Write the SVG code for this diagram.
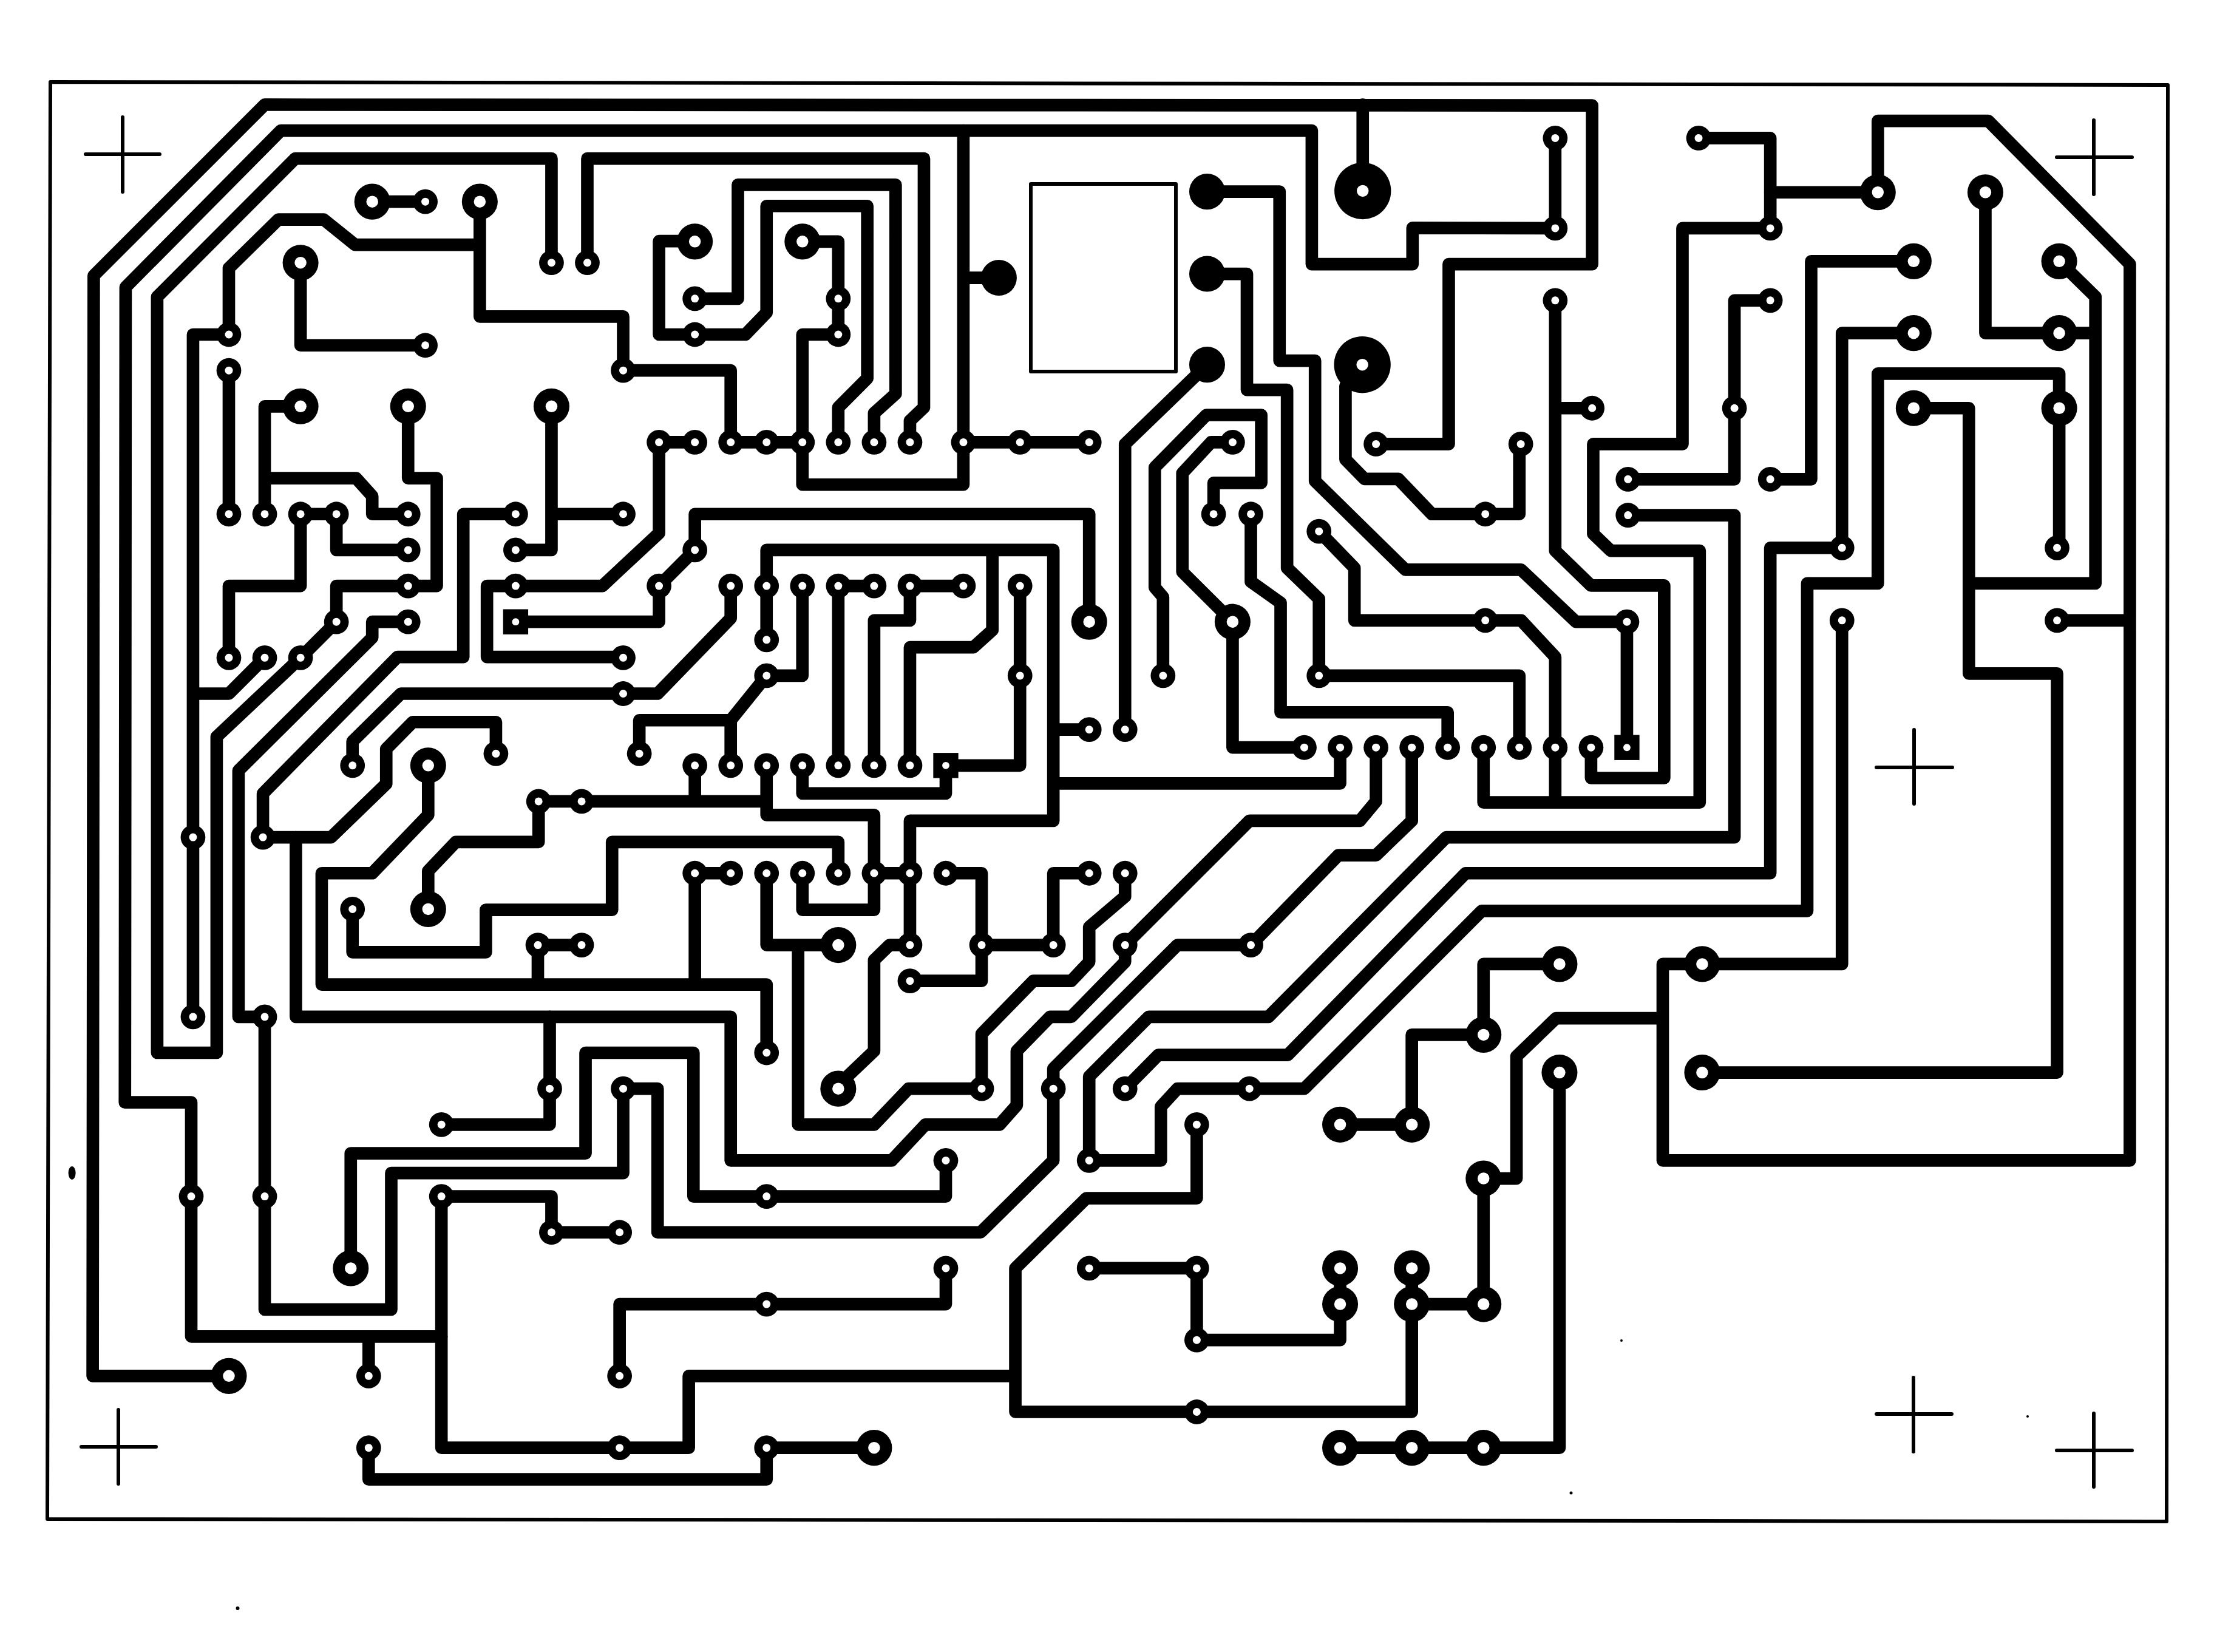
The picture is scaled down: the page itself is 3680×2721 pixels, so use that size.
<svg xmlns="http://www.w3.org/2000/svg" width="3680" height="2721" viewBox="0 0 3680 2721">
<style>
.line{fill:none;stroke:#000;stroke-width:6;stroke-linejoin:round;stroke-linecap:round}
#connectors path{fill:none;stroke:#000;stroke-width:.35;stroke-linejoin:round;stroke-linecap:round}
</style>
<defs>
<g id="s"><circle r=".345"/><circle r=".11" fill="#fff"/></g>
<g id="l"><circle r=".5"/><circle r=".165" fill="#fff"/></g>
<g id="h"><circle r=".79"/><circle r=".165" fill="#fff"/></g>
<circle id="f" r=".5"/>
<g id="q"><rect x="-.35" y="-.35" width=".7" height=".7"/><circle r=".1" fill="#fff"/></g>
</defs>
<rect width="3680" height="2721" fill="#fff"/>
<g id="board">
<path class="line" d="M83 135L3571 140L3569 2506L78 2502Z"/>
<rect class="line" x="1698" y="303" width="239" height="309"/>
<path class="line" d="M141 254H263M202 193V316M3388 259H3512M3449 198V320M3091 1264H3216M3153 1202V1324M134 2383H257M195 2322V2444M3091 2329H3215M3152 2269V2391M3388 2389H3512M3449 2328V2449"/>
<g fill="#000"><ellipse cx="118.600" cy="1932" rx="6" ry="11"/><circle cx="391.500" cy="2649" r="3"/><circle cx="2671" cy="2208" r="2"/><circle cx="2588" cy="2459" r="2.500"/><circle cx="3340" cy="2333" r="2"/></g>
</g>
<g transform="translate(377 551) scale(59.05 59.15)">
<g id="connectors">
<path d="M0 29L-3.8 29L-3.77 -1.64L1 -6.4L38.03 -6.38L38.03 -1.96L34.03 -1.96L34.03 3.05L32 3.05"/>
<path d="M31.63 -6.4L31.63 -4"/>
<path d="M37 -5.47L37 -2.96L33.02 -2.97L33.02 -1.96L30.21 -1.96L30.21 -5.68L1.45 -5.68L-2.88 -1.32L-2.9 21.38L-1.05 21.38L-1.05 27.9L5.93 27.9"/>
<path d="M20.49 -5.68L20.49 4.18L16 4.18L16 0L17 0M21.48 -1.58L20.49 -1.58M20.49 3L24 3M11 1L14 1L14 3L16 3"/>
<path d="M7 -3.7L7 -.5L11 -.5L11 1M7 -2.5L3.52 -2.5L2.65 -3.2L1.38 -3.2L0 -1.85L0 0L-1 0L-1 19M-1 10L0 10L1 9"/>
<path d="M10 -2L10 -4.9L19.39 -4.9L19.39 2.03L19 2.4L19 3M13 -1L14.2 -1L14.2 -4.17L18.6 -4.17L18.6 1.65L18 2.19L18 3M13 0L14.41 0L15 -.61L15 -3.58L17.81 -3.58L17.81 1.22L17 2.03L17 3M13 0L12 0L12 -2.6L13 -2.6M16 -2.59L17 -2.59L17 0"/>
<path d="M2 -2L2 .3L5.48 .3M4 -3.7L5.48 -3.7M0 1L0 5M2 2L1 2L1 5M1 4L3.55 4L4 4.5L4 5L5 5M2 5L3 5L3 6L5 6M2 5L2 7L0 7L0 9"/>
<path d="M5 2L5 4L5.8 4L5.8 7L3 7L3 8L2 9L-.34 11.2L-.34 20L-2 20L-2 -1.05L1.85 -4.9L9 -4.9L9 -2"/>
<path d="M9 2L9 6L8 6M9 5L11 5M8 7L10.42 7L12 5.53L12 3L13 3M8 7L7.2 7L7.2 8.98L11 8.98"/>
<path d="M8 5L6.54 5L6.54 8.98L4.7 8.98L.95 12.78L.95 14L2.85 14L4.39 12.51L4.39 11.54L5.13 10.79L7.45 10.79L7.45 11.67"/>
<path d="M5 8L4 8L4 8.44L.27 12.14L.27 19L1 19L1 27.15L4.53 27.15L4.53 23.35L11 23.35L11 21L11.96 21L11.96 25L20.97 25L23 23L23 20.44L26.46 17L28.51 17L30.95 14.5L32 14.5L33 13.54L33 11.5"/>
<path d="M14 7L14 7.9L11.96 10L4.8 10L3.45 11.33L3.45 12"/>
<path d="M11.45 11.67L11.45 10.74L14 10.74L14 12M14 10.74L15 9.5L16 9.5L16 7"/>
<path d="M15 8.5L15 6L23 6L23 13.54L19 13.54L19 15M21.3 6L21.3 8.23L20.77 8.71L19 8.71L19 12M17 7L17 12M17 7L18 7M18 12L18 7.96L19 7.96L19 7L20.49 7M22.07 7L22.07 12L20 12L20 12.78L16 12.78L16 12M23 11L24 11M23 12.5L31 12.5L31 11.5"/>
<path d="M24 8L24 5L13 5L13 6L12 7L12 8L8 8"/>
<path d="M25 11L25 3.05L27.29 .84"/>
<path d="M27.29 -3.98L29.31 -3.98L29.31 .73L30.3 .73L30.3 4.08L32.82 6.55L36.05 6.55L37.58 8L39 8L39 11.5"/>
<path d="M30.41 5.48L31.4 6.5L31.4 7.96L36.05 7.96L37 8.98L37 11.5"/>
<path d="M27.29 -1.69L28.4 -1.69L28.4 1.54L29.52 1.54L29.52 6.5L30.41 7.36L30.41 9.5L36 9.5L36 11.5"/>
<path d="M28.51 5L28.51 6.88L29.34 7.47L29.34 10.52L34 10.52L34 11.5"/>
<path d="M27.47 5L27.47 4.13L28.8 4.13L28.8 2.24L27.27 2.24L25.83 3.7L25.83 7.04L26.06 7.31L26.06 9.5"/>
<path d="M28 3L27.4 3L26.6 3.86L26.6 6.61L28 8L28 11.5L30 11.5"/>
<path d="M36 3.05L36 5L33.56 5L32.62 4.02L31.68 4.02L31.15 3.48L31.15 1.43L31.62 .84"/>
<path d="M41 -5.47L43 -5.47L43 -2.96L40.55 -2.96L40.55 3.05L38.06 3.05L38.06 5.55L38.55 6.02L41.03 6.02L41.03 13.03L35 13.03L35 11.5M37 13.03L37 11.5"/>
<path d="M43 -3.96L46 -3.96L46 -5.95L49.08 -5.95L53.03 -1.96L53.03 23L40 23L40 17.53L45 17.53L45 8M40 19.04L37.02 19.04L35.92 20.1L35.92 23.5L35 23.5L35 27L33 27M51 7.96L53 7.96"/>
<path d="M38 2.05L37 2.05M37 -.95L37 6.02L38 6.99L40.04 6.99L40.04 12.35L38 12.35L38 11.5"/>
<path d="M43 -.95L42 -.95L42 4.03L39 4.03M39 5.03L42 5.03L42 14L33.96 14L29 19L25.66 19L24 20.66L24 23L26 23L26 21.5L26.46 21L30 21L34.95 16.05L44.03 16.05L44.03 6.93L46 6.93L46 1.09L51.06 1.09L51.06 5.94"/>
<path d="M43 4.03L44.14 4.03L44.14 -2.04L47 -2.04M47 -.04L45 -.04L45 5.94L43 5.94L43 15L34.5 15L29.54 20.06L25.93 20.06L25 21"/>
<path d="M47 2.05L48.54 2.05L48.54 9.44L51 9.44L51 20.55L41.1 20.55M48.54 6.93L52.07 6.93L52.07 -1.05L51.06 -2.04M49 -3.96L49 -.04L52.07 -.04"/>
<path d="M33 22L33 19.5L35 19.5L35 17.53L37.12 17.53M33 22L31 22M37.12 20.55L37.12 31L31 31"/>
<path d="M33 26L33 30L21.94 30L21.94 26L23.92 24.05L27 24.05L27 22M21.94 29L12.83 29L12.83 31L5.93 31L5.93 24L9 24L9 25L10.9 25M24 26L27 26L27 28L31 28L31 26M3.9 29L3.9 27.9"/>
<path d="M20 26L20 27L10.9 27L10.9 29M20 23L20 24L12.96 24L12.96 20L9.95 20L9.95 22.8L3.4 22.8L3.4 26M15 31L15 31.88L3.9 31.88L3.9 31M15 31L18 31"/>
<path d="M25 15L25 15.65L24 16.5L24 17.47L23.5 18L22.44 18L21 19.47L21 21L18.96 21L18 22L15.88 22L15.88 17L17 17M15 15L15 17L15.88 17M14 15L13 15L13 18.1"/>
<path d="M5.56 12L5.56 13.38L4 15L2.59 15L2.59 18.1L15 18.1L15 20M8.62 17L8.62 18.1M8.62 17L9.84 17"/>
<path d="M5.56 16L5.56 14.94L6.33 14.13L8.64 14.13L8.64 13L15 13L15 12M15 13.38L18 13.38L18 15M13 12L13 13M15 13L15 13.38"/>
<path d="M17 15L17 14.13L10.69 14.13L10.69 16.02L7.17 16.02L7.17 17.2L3.45 17.2L3.45 16"/>
<path d="M16 15L16 16.02L18 16.02L18 15L19 15L19 17L18.43 17L18 17.42L18 19.95L17 20.9L17 21"/>
<path d="M21 18L21 15L20 15M21 18L19 18M21 17L23 17L23 15L24 15"/>
<path d="M25 17L28.47 13.54L31.55 13.54L32 13L32 11.5"/>
<path d="M25 17L25 17.47L23.5 19L22.91 19L21.98 19.95L21.98 21.46L21.5 22L19.43 22L18.49 23L14 23L14 19L1.87 19L1.87 14"/>
<path d="M8.95 19L8.95 22L5.93 22"/>
</g>
<g id="pads">
<g id="small-pads">
<use href="#s" x="5.48" y="-3.7"/><use href="#s" x="9" y="-2"/><use href="#s" x="10" y="-2"/><use href="#s" x="13" y="-1"/><use href="#s" x="13" y="0"/><use href="#s" x="5.48" y=".3"/><use href="#s" x="0" y="0"/><use href="#s" x="0" y="1"/><use href="#s" x="11" y="1"/><use href="#s" x="0" y="5"/><use href="#s" x="1" y="5"/><use href="#s" x="2" y="5"/><use href="#s" x="3" y="5"/><use href="#s" x="5" y="5"/><use href="#s" x="8" y="5"/><use href="#s" x="11" y="5"/><use href="#s" x="5" y="6"/><use href="#s" x="8" y="6"/><use href="#s" x="5" y="7"/><use href="#s" x="8" y="7"/><use href="#s" x="13" y="6"/><use href="#s" x="12" y="7"/><use href="#s" x="14" y="7"/><use href="#s" x="5" y="8"/><use href="#s" x="3" y="8"/><use href="#s" x="0" y="9"/><use href="#s" x="1" y="9"/><use href="#s" x="2" y="9"/><use href="#s" x="11" y="9"/><use href="#s" x="12" y="3"/><use href="#s" x="13" y="3"/><use href="#s" x="14" y="3"/><use href="#s" x="15" y="3"/><use href="#s" x="16" y="3"/><use href="#s" x="17" y="-1"/><use href="#s" x="17" y="0"/><use href="#s" x="17" y="3"/><use href="#s" x="18" y="3"/><use href="#s" x="19" y="3"/><use href="#s" x="20.49" y="3"/><use href="#s" x="22.07" y="3"/><use href="#s" x="24" y="3"/><use href="#s" x="15" y="7"/><use href="#s" x="16" y="7"/><use href="#s" x="17" y="7"/><use href="#s" x="18" y="7"/><use href="#s" x="19" y="7"/><use href="#s" x="20.49" y="7"/><use href="#s" x="22.07" y="7"/><use href="#s" x="15" y="8.5"/><use href="#s" x="15" y="9.5"/><use href="#s" x="22.07" y="9.5"/><use href="#s" x="14" y="12"/><use href="#s" x="15" y="12"/><use href="#s" x="16" y="12"/><use href="#s" x="17" y="12"/><use href="#s" x="18" y="12"/><use href="#s" x="19" y="12"/><use href="#s" x="24" y="11"/><use href="#s" x="25" y="11"/><use href="#s" x="26.06" y="9.5"/><use href="#s" x="27.47" y="5"/><use href="#s" x="28.51" y="5"/><use href="#s" x="28" y="3"/><use href="#s" x="32" y="3.05"/><use href="#s" x="30.41" y="5.48"/><use href="#s" x="30.41" y="9.5"/><use href="#s" x="30" y="11.5"/><use href="#s" x="31" y="11.5"/><use href="#s" x="32" y="11.5"/><use href="#s" x="33" y="11.5"/><use href="#s" x="34" y="11.5"/><use href="#s" x="35" y="11.5"/><use href="#s" x="36" y="11.5"/><use href="#s" x="37" y="11.5"/><use href="#s" x="38" y="11.5"/>
<use href="#s" x="14" y="15"/><use href="#s" x="15" y="15"/><use href="#s" x="16" y="15"/><use href="#s" x="17" y="15"/><use href="#s" x="18" y="15"/><use href="#s" x="19" y="15"/><use href="#s" x="20" y="15"/><use href="#s" x="24" y="15"/><use href="#s" x="25" y="15"/><use href="#s" x="19" y="17"/><use href="#s" x="21" y="17"/><use href="#s" x="23" y="17"/><use href="#s" x="25" y="17"/><use href="#s" x="28.51" y="17"/><use href="#s" x="19" y="18"/><use href="#s" x="15" y="20"/><use href="#s" x="21" y="21"/><use href="#s" x="23" y="21"/><use href="#s" x="25" y="21"/><use href="#s" x="28.47" y="21"/><use href="#s" x="24" y="23"/><use href="#s" x="20" y="23"/><use href="#s" x="15" y="24"/><use href="#s" x="27" y="22"/><use href="#s" x="20" y="26"/><use href="#s" x="15" y="27"/><use href="#s" x="24" y="26"/><use href="#s" x="27" y="26"/><use href="#s" x="27" y="28"/><use href="#s" x="27" y="30"/><use href="#s" x="15" y="31"/><use href="#s" x="3.9" y="29"/><use href="#s" x="3.9" y="31"/><use href="#s" x="10.9" y="29"/><use href="#s" x="10.9" y="31"/><use href="#s" x="5.93" y="24"/><use href="#s" x="9" y="25"/><use href="#s" x="10.9" y="25"/><use href="#s" x="8.95" y="21"/><use href="#s" x="11" y="21"/><use href="#s" x="11" y="10"/><use href="#s" x="-1" y="14"/><use href="#s" x="-1" y="19"/><use href="#s" x="1" y="19"/><use href="#s" x="1" y="24"/><use href="#s" x="-1.05" y="24"/><use href="#s" x="3.45" y="12"/><use href="#s" x="7.45" y="11.67"/><use href="#s" x="11.45" y="11.67"/><use href="#s" x="13" y="12"/><use href="#s" x=".95" y="14"/><use href="#s" x="8.64" y="13"/><use href="#s" x="9.84" y="13"/><use href="#s" x="8.62" y="17"/><use href="#s" x="9.84" y="17"/><use href="#s" x="13" y="15"/><use href="#s" x="3.45" y="16"/><use href="#s" x="37" y="-5.47"/><use href="#s" x="37" y="-2.96"/><use href="#s" x="41" y="-5.47"/><use href="#s" x="43" y="-2.96"/><use href="#s" x="43" y="-.95"/><use href="#s" x="37" y="-.95"/><use href="#s" x="38.03" y="2.05"/><use href="#s" x="36.04" y="3.05"/><use href="#s" x="39.03" y="4.03"/><use href="#s" x="43" y="4.03"/><use href="#s" x="39.03" y="5.03"/><use href="#s" x="42" y="2.05"/><use href="#s" x="35.05" y="5"/><use href="#s" x="45" y="5.94"/><use href="#s" x="51" y="5.94"/><use href="#s" x="39" y="8"/><use href="#s" x="35.05" y="7.96"/><use href="#s" x="45" y="7.96"/><use href="#s" x="51" y="7.96"/><use href="#s" x="5.93" y="22"/>
</g>
<g id="large-pads">
<use href="#l" x="4" y="-3.7"/><use href="#l" x="7" y="-3.7"/><use href="#l" x="13" y="-2.59"/><use href="#l" x="2" y="-2"/><use href="#l" x="2" y="2"/><use href="#l" x="5" y="2"/><use href="#l" x="9" y="2"/><use href="#l" x="16" y="-2.59"/><use href="#l" x="24" y="8"/><use href="#l" x="28" y="8"/><use href="#l" x="17" y="17"/><use href="#l" x="17" y="21"/><use href="#l" x="5.56" y="12"/><use href="#l" x="5.56" y="16"/><use href="#l" x="3.4" y="26"/><use href="#l" x="0" y="29"/><use href="#l" x="18" y="31"/><use href="#l" x="46" y="-3.96"/><use href="#l" x="49" y="-3.96"/><use href="#l" x="51.06" y="-2.04"/><use href="#l" x="47" y="-2.04"/><use href="#l" x="47" y="-.04"/><use href="#l" x="51.06" y="-.04"/><use href="#l" x="47" y="2.05"/><use href="#l" x="51.06" y="2.05"/><use href="#l" x="41.1" y="17.53"/><use href="#l" x="41.1" y="20.55"/><use href="#l" x="37.12" y="17.53"/><use href="#l" x="37.12" y="20.55"/><use href="#l" x="35" y="19.5"/><use href="#l" x="35" y="23.5"/><use href="#l" x="33" y="22"/><use href="#l" x="31" y="22"/><use href="#l" x="31" y="26"/><use href="#l" x="31" y="27"/><use href="#l" x="33" y="26"/><use href="#l" x="33" y="27"/><use href="#l" x="35" y="27"/><use href="#l" x="31" y="31"/><use href="#l" x="33" y="31"/><use href="#l" x="35" y="31"/>
</g>
<g id="huge-pads"><use href="#h" x="31.63" y="-4"/><use href="#h" x="31.62" y=".84"/></g>
<g id="solid-pads"><use href="#f" x="21.48" y="-1.58"/><use href="#f" x="27.29" y="-3.98"/><use href="#f" x="27.29" y="-1.69"/><use href="#f" x="27.29" y=".84"/></g>
<g id="square-pads"><use href="#q" x="8" y="8"/><use href="#q" x="20" y="12"/><use href="#q" x="39" y="11.5"/></g>
</g>
</g>
</svg>
